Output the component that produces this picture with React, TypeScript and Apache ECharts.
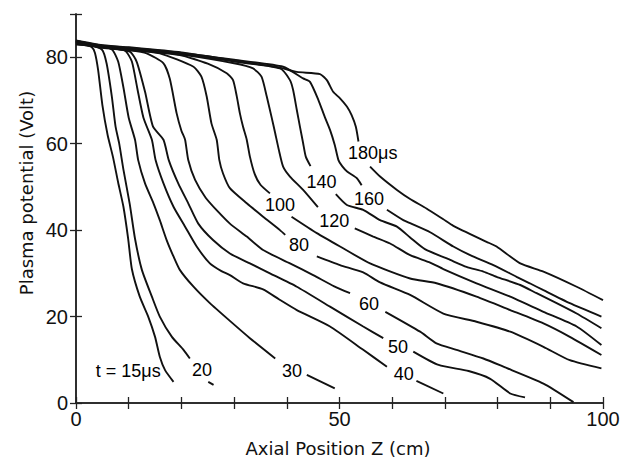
import React, { useEffect, useRef } from "react";
import * as echarts from "echarts";

// Axial position Z (cm), plasma potential (V); null marks a gap where a label sits
const curve15 = [[0,83.0],[1.5,82.9],[3,82.3],[3.6,81],[4.2,77],[5,69],[6,62],[7,57],[8,51],[9,45.4],[9.9,38],[10.6,31],[12.1,24.6],[13.7,20],[15,15.3],[15.9,10.7],[16.9,7.6],[18.5,4.9]];
const curve20 = [[0,83.5],[2,83],[4.9,81.8],[5.8,78.6],[6.8,70.9],[7.5,64],[8.2,60],[9.0,54],[10.2,46],[11.2,38],[12.5,30.8],[14.4,24.6],[15.9,20],[18.2,15.3],[20.4,12.3],[21.6,10.3],null,[25.1,4.9],[26.1,4.2]];
const curve30 = [[0,83.8],[3,83],[6.8,81.8],[8.0,79],[9.0,73],[10.0,66],[11.2,60.9],[11.8,56.2],[13.1,50.8],[14.7,46.2],[15.9,42.3],[17.2,37.7],[18.5,33.9],[19.7,30.8],[22.3,26.9],[25.4,23.1],[29.2,19],[33,15],[37.8,10.3],null,[43.8,6.5],[49.1,3.4]];
const curve40 = [[0,83.2],[5,82.3],[9.3,81.5],[10.6,79],[11.6,73],[12.8,66],[14.4,60.9],[15.1,56.2],[16.6,50.8],[18.5,45.4],[20.7,40.8],[22.9,36.2],[25.4,32.3],[27.6,30.5],[29.2,29.6],[31.7,27.7],[35.5,26.3],[38.5,24],[41.9,21.5],[48.2,17.7],[54.5,12.3],[59,8.4],null,[64.6,5.1],[69.7,2.2]];
const curve50 = [[0,83.6],[5,82.5],[10.2,81.3],[11.5,79],[13.1,72],[14.6,64],[16.6,60.9],[17.6,56.2],[19.4,50.8],[21.3,46.2],[23.2,41.5],[26,37.7],[29.2,34.6],[33,32.3],[36.8,30],[41.9,26.9],[48.2,22.3],[54.5,17.7],[58.3,15],null,[64,11.9],[68.8,8.8],[74.5,7.4],[78.6,5.6],[82.4,2.2],[85.2,1.3]];
const curve60 = [[0,83.1],[5,82.2],[10,81.6],[13.4,80.9],[16.6,78.6],[17.8,75],[19.1,67],[20,63],[20.7,60.9],[21.3,56.2],[22.6,51.6],[24.6,47.5],[27,44.2],[29.2,41.5],[32.4,38.5],[35.5,35.4],[40.6,32.3],[45,29.6],[49,27],[52,25.4],null,[58.7,21.1],[65.3,16.5],[68.4,13.8],[72.2,12.3],[77.3,10.3],[81.1,8.4],[88.7,4.5],[94.4,0.2]];
const curve80 = [[0,83.4],[5,82.3],[10,81.7],[15.9,80.9],[22.3,77.8],[23.8,75.5],[24.8,70.9],[25.7,64.7],[26.7,60.9],[27.2,56.2],[27.9,53.1],[29.2,49.7],[32.4,46.2],[35.5,43.1],[38.7,40],[39.7,38.9],null,[45.7,33.9],[50.1,31.9],[54.5,30.2],[57.7,27.9],[63.4,25],[69.7,20.7],[76,18.8],[82.4,16.5],[88.7,13],[93.7,9.9],[99.7,8]];
const curve100 = [[0,83.0],[5,82.4],[10,81.8],[19.7,80.5],[25,78.5],[28.6,76.3],[29.8,74.7],[30.5,71],[31.1,67],[31.7,63.9],[32.4,60.9],[33,57],[33.9,53],[35,50.5],[36.8,48.5],null,[40.9,43.1],[45.7,39.3],[50.1,36.2],[55.8,32.3],[63.4,28.8],[68.4,27.7],[76,24.6],[82.4,21.5],[88.7,18.4],[93.7,15.3],[99.7,11.1]];
const curve120 = [[0,83.6],[5,82.6],[10,82],[20,80.6],[30,78.6],[33.6,77.4],[35.2,75.5],[36.2,70.9],[37.1,66.2],[37.8,62.4],[38.5,58.5],[39.3,54.7],[40.6,52.4],[43.1,49.3],[45.9,45.3],null,[52.9,40.4],[56.4,38.5],[59.6,36.9],[63.4,34.2],[67.2,32.5],[69.7,31],[76,27.7],[82.4,24.6],[88.7,21.1],[95,17.7],[99.7,13.4]];
const curve140 = [[0,83.3],[5,82.5],[10,82],[20,80.8],[30,79],[38.7,77.4],[40.6,74.7],[41.2,72.4],[41.9,67.8],[42.5,63.9],[43.1,60.1],[43.6,57],[44.5,54.8],null,[49.3,48.3],[51.4,45.8],[54.5,44.7],[57.7,42.3],[60.9,40.8],[63.4,38.3],[66.2,35.6],[71,33.1],[74.1,31.5],[77.3,30.4],[79.8,29.2],[84.3,27.3],[87.4,25.4],[91.2,23.1],[95,20.7],[99.7,17.3]];
const curve160 = [[0,83.7],[5,82.7],[10,82.2],[20,81],[30,79.4],[39.3,77.8],[43.1,75.1],[44.4,74.3],[46,70.1],[47.2,66.2],[48.2,63.2],[49.1,59.7],[49.8,56.2],[50.5,54.8],[51.5,53.5],[53.3,52],[54.2,50.4],null,[59,44.7],[62.1,42.3],[63.4,41.6],[67.2,39.5],[71.6,36.2],[74.8,34.2],[79.2,31.9],[83.6,29.2],[86.1,27.7],[88.7,26.1],[93.7,23.1],[99.7,20]];
const curve180 = [[0,83.9],[5,82.8],[10,82.3],[20,81.1],[29.2,79.4],[35,78.3],[38.7,77.6],[41.9,76.6],[46.3,76.1],[47.6,74.7],[48.8,72],[50.1,70.5],[51.4,68.6],[52.3,66.6],[53.1,63.9],[53.6,60.5],null,[55.8,54.7],[57.7,52.4],[60.9,49.3],[63.4,47.2],[66.5,45],[69.7,42.5],[71.6,41],[77.9,37.3],[79.8,36.2],[84.3,32.3],[88.7,30.4],[95,26.9],[100,23.8]];

const curves = [curve15, curve20, curve30, curve40, curve50, curve60, curve80, curve100, curve120, curve140, curve160, curve180];

// curve labels (text, Z, V)
const labelTexts = ["t = 15μs", "20", "30", "40", "50", "60", "80", "100", "120", "140", "160", "180μs"];
const labelX = [9.9, 23.9, 41, 62.2, 61.1, 55.6, 42.3, 38.7, 49, 46.6, 55.6, 56.3];
const labelY = [7.4, 7.6, 7.3, 6.7, 13, 22.8, 36.6, 45.8, 42, 51.2, 47.2, 57.8];

const xTickLabels = [0, 50, 100];
const yTickLabels = [0, 20, 40, 60, 80];

function splitSegments(arr: (number[] | null)[]): number[][][] {
  const segs: number[][][] = [];
  let cur: number[][] = [];
  for (const p of arr) {
    if (p === null) {
      if (cur.length) segs.push(cur);
      cur = [];
    } else cur.push(p);
  }
  if (cur.length) segs.push(cur);
  return segs;
}

export default function App() {
  const ref = useRef<HTMLDivElement>(null);
  useEffect(() => {
    if (!ref.current) return;
    const chart = echarts.init(ref.current, null, { renderer: "svg" });
    const lineSeries: any[] = [];
    curves.forEach((c) => {
      splitSegments(c as any).forEach((seg) => {
        lineSeries.push({
          type: "line",
          data: seg,
          symbol: "none",
          smooth: 0.2,
          silent: true,
          lineStyle: { color: "#111", width: 1.9 },
          z: 2,
        });
      });
    });
    const axisLine = { show: true, lineStyle: { color: "#222", width: 1.5 } };
    const axisTick = { show: true, inside: true, length: 6, lineStyle: { color: "#222", width: 1.3 } };
    const tickFont = { color: "#111", fontSize: 20, fontFamily: "Liberation Sans" };
    chart.setOption({
      animation: false,
      backgroundColor: "#fff",
      grid: { left: 76, right: 27, top: 14, bottom: 57, containLabel: false },
      xAxis: [
        {
          type: "value", min: 0, max: 100, interval: 10, position: "bottom",
          axisLine, axisTick, splitLine: { show: false },
          axisLabel: { ...tickFont, margin: 6, formatter: (v: number) => (xTickLabels.includes(v) ? String(v) : "") },
        },
        {
          type: "value", min: 0, max: 100, interval: 10, position: "top",
          axisLine, axisTick, splitLine: { show: false }, axisLabel: { show: false },
        },
      ],
      yAxis: [
        {
          type: "value", min: 0, max: 90, interval: 20, position: "left",
          axisLine, axisTick, splitLine: { show: false },
          axisLabel: { ...tickFont, margin: 8, formatter: (v: number) => (yTickLabels.includes(v) ? String(v) : "") },
        },
        {
          type: "value", min: 0, max: 90, interval: 20, position: "right",
          axisLine, axisTick, splitLine: { show: false }, axisLabel: { show: false },
        },
      ],
      series: [
        ...lineSeries,
        {
          type: "scatter",
          symbol: "circle",
          symbolSize: 0,
          itemStyle: { color: "#000" },
          silent: true,
          data: labelTexts.map((t, i) => ({ name: t, value: [labelX[i], labelY[i]] })),
          label: {
            show: true, position: "inside", formatter: (p: any) => p.name,
            color: "#000", opacity: 1, textBorderWidth: 0, fontSize: 18, fontFamily: "Liberation Sans",
            align: "center", verticalAlign: "middle",
          },
          z: 3,
        },
      ],
      graphic: [
        {
          type: "text", x: 26, y: 193, rotation: Math.PI / 2,
          style: { text: "Plasma potential (Volt)", fill: "#111", font: "18px 'DejaVu Sans'", align: "center", verticalAlign: "middle" },
        },
        {
          type: "text", x: 338, y: 448,
          style: { text: "Axial Position Z (cm)", fill: "#111", font: "18px 'DejaVu Sans'", align: "center", verticalAlign: "middle" },
        },
      ],
    });
    return () => chart.dispose();
  }, []);
  return <div ref={ref} style={{ width: 630, height: 460, position: "absolute", left: 0, top: 0 }} />;
}
